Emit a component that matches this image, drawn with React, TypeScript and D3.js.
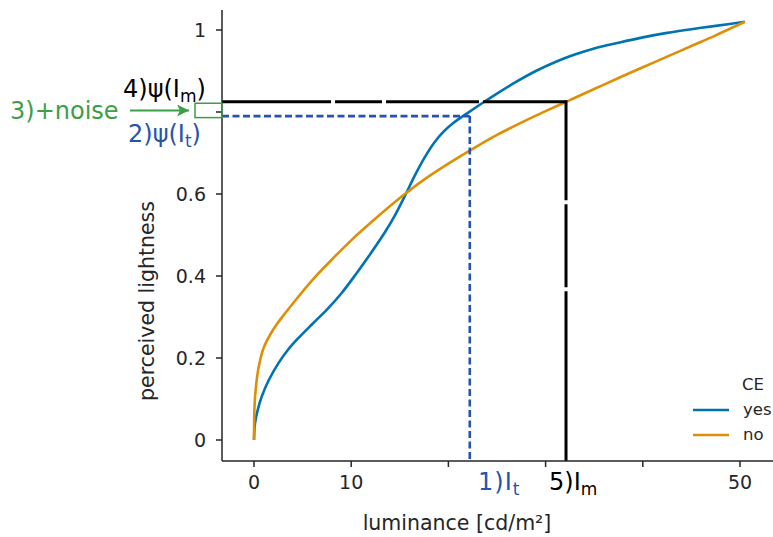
import React from 'react';
import * as d3 from 'd3';

// luminance [cd/m²] and perceived lightness
const yesLum = [0, 0.1, 0.4, 0.8, 1.5, 2.5, 3.5, 4.5, 6, 7.5, 9, 10.5, 12, 13.5, 14.5, 15.5, 16.5, 17.5, 18.5, 19.5, 20.5, 22, 23.5, 25, 27, 29, 31, 33, 35, 37.5, 40, 42.5, 45, 47.5, 50.5];
const yesLight = [0, 0.04, 0.075, 0.106, 0.145, 0.187, 0.22, 0.247, 0.283, 0.318, 0.358, 0.405, 0.455, 0.508, 0.548, 0.594, 0.643, 0.687, 0.724, 0.752, 0.773, 0.798, 0.822, 0.845, 0.874, 0.9, 0.922, 0.94, 0.955, 0.969, 0.982, 0.993, 1.002, 1.01, 1.02];
const noLum = [0, 0.05, 0.2, 0.5, 1, 2, 3, 4, 6, 8, 10, 12.5, 15, 17.5, 20, 22.5, 25, 27.5, 30, 32.5, 35, 37.5, 40, 42.5, 45, 47.5, 50.5];
const noLight = [0, 0.08, 0.13, 0.18, 0.225, 0.27, 0.303, 0.333, 0.39, 0.44, 0.487, 0.54, 0.59, 0.635, 0.674, 0.71, 0.744, 0.774, 0.802, 0.829, 0.856, 0.883, 0.909, 0.935, 0.961, 0.987, 1.02];

const xTicks = [0, 10, 20, 30, 40, 50];
const xTickLabels = ['0', '10', '', '', '', '50'];
const yTicks = [0, 0.2, 0.4, 0.6, 0.8, 1];
const yTickLabels = ['0', '0.2', '0.4', '0.6', '', '1'];

const seriesNames = ['yes', 'no'];
const legendTitle = 'CE';

const I_t = 22.2;
const psiIt = 0.79;
const I_m = 32.1;
const psiIm = 0.825;

const W = 773;
const H = 537;

export default function App() {
  const x = d3.scaleLinear().domain([0, 50]).range([254, 740]);
  const y = d3.scaleLinear().domain([0, 1]).range([440, 30]);
  const axisX0 = x.invert(222);
  const axisYTop = y.invert(10);
  const axisYBot = y.invert(461);

  const line = d3
    .line<[number, number]>()
    .x((d) => x(d[0]))
    .y((d) => y(d[1]))
    .curve(d3.curveCatmullRom.alpha(0.5));

  const yesPts = yesLum.map((l, i) => [l, yesLight[i]] as [number, number]);
  const noPts = noLum.map((l, i) => [l, noLight[i]] as [number, number]);

  const colors = ['#0173b2', '#de8f05'];
  const dark = '#262626';
  const blueAnn = '#2653ad';
  const green = '#3c9e48';
  const font = 'DejaVu Sans, sans-serif';

  return (
    <svg
      width={W}
      height={H}
      style={{ position: 'absolute', left: 0, top: 0, display: 'block', background: '#fff' }}
      fontFamily={font}
    >
      {/* curves */}
      <path d={line(yesPts) || ''} fill="none" stroke={colors[0]} strokeWidth={2.6} />
      <path d={line(noPts) || ''} fill="none" stroke={colors[1]} strokeWidth={2.6} />

      {/* annotation lines */}
      <line x1={x(axisX0)} x2={x(I_t)} y1={y(psiIt)} y2={y(psiIt)} stroke={blueAnn} strokeWidth={2.6} strokeDasharray="7,3.5" />
      <line x1={x(I_t)} x2={x(I_t)} y1={y(psiIt)} y2={y(axisYBot)} stroke={blueAnn} strokeWidth={2.6} strokeDasharray="7,3.5" />
      <line x1={x(I_m)} x2={x(axisX0)} y1={y(psiIm)} y2={y(psiIm)} stroke="#000" strokeWidth={3} strokeDasharray="83,4,93,4,47,4,400" />
      <line x1={x(I_m)} x2={x(I_m)} y1={y(psiIm) - 1.5} y2={y(axisYBot)} stroke="#000" strokeWidth={3} strokeDasharray="100,4,83,4,400" />

      {/* axes */}
      <line x1={x(axisX0)} x2={x(axisX0)} y1={y(axisYTop)} y2={y(axisYBot)} stroke={dark} strokeWidth={1.5} />
      <line x1={x(axisX0)} x2={W} y1={y(axisYBot)} y2={y(axisYBot)} stroke={dark} strokeWidth={1.5} />
      {yTicks.map((t, i) => (
        <g key={'yt' + i}>
          <line x1={x(axisX0) - 6} x2={x(axisX0)} y1={y(t)} y2={y(t)} stroke={dark} strokeWidth={1.5} />
          <text x={206} y={y(t)} dy="0.36em" textAnchor="end" fontSize={19} fill={dark}>
            {yTickLabels[i]}
          </text>
        </g>
      ))}
      {xTicks.map((t, i) => (
        <g key={'xt' + i}>
          <line x1={x(t)} x2={x(t)} y1={y(axisYBot)} y2={y(axisYBot) + 6} stroke={dark} strokeWidth={1.5} />
          <text x={x(t)} y={489} textAnchor="middle" fontSize={19} fill={dark}>
            {xTickLabels[i]}
          </text>
        </g>
      ))}

      {/* axis labels */}
      <text x={457} y={530} textAnchor="middle" fontSize={20.5} fill={dark}>
        luminance [cd/m²]
      </text>
      <text transform={`translate(154,301) rotate(-90)`} textAnchor="middle" fontSize={20.5} fill={dark}>
        perceived lightness
      </text>

      {/* green noise box & arrow */}
      <rect x={195} y={y(psiIm) + 1.5} width={x(axisX0) - 195} height={y(psiIt) - y(psiIm)} fill="none" stroke={green} strokeWidth={1.5} />
      <defs>
        <marker id="arr" viewBox="0 0 10 10" refX={10} refY={5} markerWidth={16} markerHeight={12} markerUnits="userSpaceOnUse" orient="auto">
          <path d="M0,0 L10,5 L0,10 L2.5,5 Z" fill={green} />
        </marker>
      </defs>
      <line x1={130} x2={189} y1={110.5} y2={110.5} stroke={green} strokeWidth={2} markerEnd="url(#arr)" />
      <text x={10} y={119} fontSize={24} fill={green}>3)+noise</text>

      {/* annotation texts */}
      <text x={123} y={97} fontSize={24} fill="#000">
        4)ψ(I<tspan fontSize={17} dy={5}>m</tspan><tspan dy={-5}>)</tspan>
      </text>
      <text x={128} y={142} fontSize={24} fill={blueAnn}>
        2)ψ(I<tspan fontSize={17} dy={5}>t</tspan><tspan dy={-5}>)</tspan>
      </text>
      <text x={478} y={490} fontSize={24} fill={blueAnn} letterSpacing={1}>
        1)I<tspan fontSize={17} dy={5}>t</tspan>
      </text>
      <text x={549} y={490} fontSize={24} fill="#000">
        5)I<tspan fontSize={17} dy={5}>m</tspan>
      </text>

      {/* legend */}
      <text x={742} y={390} fontSize={16.5} fill={dark}>{legendTitle}</text>
      {seriesNames.map((s, i) => (
        <g key={s}>
          <line x1={693} x2={729} y1={410 + i * 25} y2={410 + i * 25} stroke={colors[i]} strokeWidth={2.6} />
          <text x={743} y={410 + i * 25} dy="0.33em" fontSize={16.5} fill={dark}>{s}</text>
        </g>
      ))}
    </svg>
  );
}
